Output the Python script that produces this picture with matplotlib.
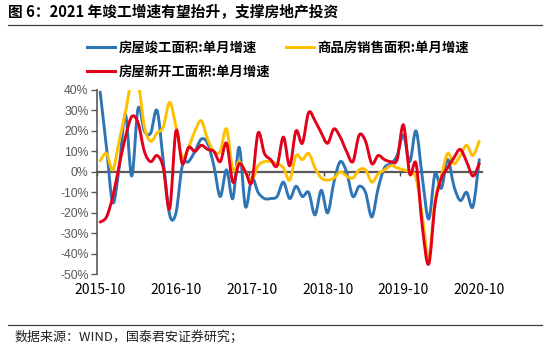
import numpy as np
import matplotlib.pyplot as plt
from matplotlib.path import Path
from matplotlib.patches import PathPatch
from matplotlib.lines import Line2D

plt.rcParams['font.family'] = ['Noto Sans CJK SC', 'DejaVu Sans']

# Monthly YoY growth (%), 2015-10 .. 2020-10
completed = [39, 12, -15, 2, 28, -2, 31, 20, 19, 30, 5, -21, -20, 3,
             5, 10, 16, 14, 3, -12, 1, -13, 12, -17, -3, -10, -13, -13, -12,
             -5, -13, -7, -12, -10, -21, -9, -20, -5, 5, 0, -12, -7, -10, -22,
             -8, 2, 4, 8, 18, 5, 20, -3, -23, -1, -8, 6, -7, -14, -10, -17, 6]
sales = [5.5, 9, 1, 15, 29, 45, 44, 22, 15, 19, 22, 34, 22, 7,
         12, 20, 25, 16, 10, 10, 21, 1, 5, 0, -4, 3, 5, 5, 4,
         2, -4, 8, 6, 9, 2, -3, -4, -3, 0, -2, -3, 1, 1, -5,
         -1, 1, 3, 2, 1, 0, -3, -22, -42, -14, -2, 9, 4, 8, 13, 8, 15]
new_starts = [-24.5, -22, -12, 3, 17, 27, 24, 10, 5, 8, 2, -18, 20, 4,
              12, 10, 13, 11, 10, 5, 14, -5, 4, 0, -5, 19, 9, 6, 3,
              17, 3, 20, 14, 29, 25, 19, 14, 21, 17, 10, 5, 18, 15, 4,
              8, 6, 5, 6, 23, -1, 4, -27, -45, -16, -3, 2, 7, 11, 5, -2, 4]

tick_labels = ['2015-10', '2016-10', '2017-10', '2018-10', '2019-10', '2020-10']
y_ticks = [-50, -40, -30, -20, -10, 0, 10, 20, 30, 40]

names = ['房屋竣工面积:单月增速', '商品房销售面积:单月增速', '房屋新开工面积:单月增速']
colors = ['#2E75B6', '#FFC000', '#E3001B']


def smooth_path(values):
    # Bezier segments through each monthly point (Excel-style smoothed line)
    pts = np.column_stack([np.arange(len(values)), values]).astype(float)
    n = len(pts)
    verts = [pts[0]]
    codes = [Path.MOVETO]
    for i in range(n - 1):
        p0 = pts[max(i - 1, 0)]
        p1 = pts[i]
        p2 = pts[i + 1]
        p3 = pts[min(i + 2, n - 1)]
        verts += [p1 + (p2 - p0) / 6, p2 - (p3 - p1) / 6, p2]
        codes += [Path.CURVE4] * 3
    return Path(verts, codes)


fig = plt.figure(figsize=(5.5, 3.49), dpi=100)
ax = fig.add_axes([97 / 550, 1 - 274.3 / 349, (482.4 - 97) / 550, (274.3 - 90) / 349])

for series, c in zip([completed, sales, new_starts], colors):
    ax.add_patch(PathPatch(smooth_path(series), facecolor='none', edgecolor=c,
                           lw=2.1, zorder=3, capstyle='round', joinstyle='round'))

n = len(completed)
ax.set_xlim(-0.5, n - 0.5)
ax.set_ylim(-50, 40)

ax.set_yticks(y_ticks)
ax.set_yticklabels([f'{v}%' for v in y_ticks])

# small marks on the zero line between Sep and Oct, labels at the bottom
label_pos = np.arange(0, n, 12)
ax.set_xticks(label_pos - 0.5)
ax.set_xticklabels([])
ax.set_xticks(label_pos, tick_labels, minor=True)
ax.tick_params(axis='x', which='major', direction='out', length=3, width=1, color='#404040')
ax.tick_params(axis='x', which='minor', length=0, pad=80)
ax.tick_params(axis='y', direction='out', length=4, width=1, color='#595959', pad=2)

for lbl in ax.get_xticklabels(minor=True) + ax.get_yticklabels():
    lbl.set_fontfamily(['Liberation Sans', 'DejaVu Sans'])
    lbl.set_fontsize(8.8)
    lbl.set_color('#595959')

for s in ['top', 'right']:
    ax.spines[s].set_visible(False)
ax.spines['bottom'].set_position(('data', 0))
ax.spines['bottom'].set_color('#595959')
ax.spines['bottom'].set_linewidth(1.6)
ax.spines['left'].set_color('#595959')
ax.spines['left'].set_linewidth(1.2)

handles = [Line2D([], [], color=colors[0], lw=2.2),
           Line2D([], [], color=colors[2], lw=2.2),
           Line2D([], [], color=colors[1], lw=2.2)]
fig.legend(handles, [names[0], names[2], names[1]], ncol=2, frameon=False,
           loc='upper left', bbox_to_anchor=(87 / 550, 1 - 40.5 / 349),
           prop={'weight': 'bold', 'size': 9.6}, handlelength=2.1,
           handletextpad=0.25, columnspacing=1.2, labelspacing=0.75,
           borderpad=0, borderaxespad=0)

fig.text(8 / 550, 1 - 12.5 / 349, '图 6：2021 年竣工增速有望抬升，支撑房地产投资',
         fontsize=10.6, fontweight='bold', va='center', ha='left')
fig.add_artist(Line2D([8 / 550, 542 / 550], [1 - 25 / 349, 1 - 25 / 349],
                      color='#404040', lw=0.9))
fig.add_artist(Line2D([8 / 550, 542 / 550], [1 - 325 / 349, 1 - 325 / 349],
                      color='#404040', lw=0.9))
fig.text(15 / 550, 1 - 338 / 349, '数据来源：WIND，国泰君安证券研究；',
         fontsize=9.4, va='center', ha='left', color='#222222')

fig.savefig('out.png', dpi=100)
